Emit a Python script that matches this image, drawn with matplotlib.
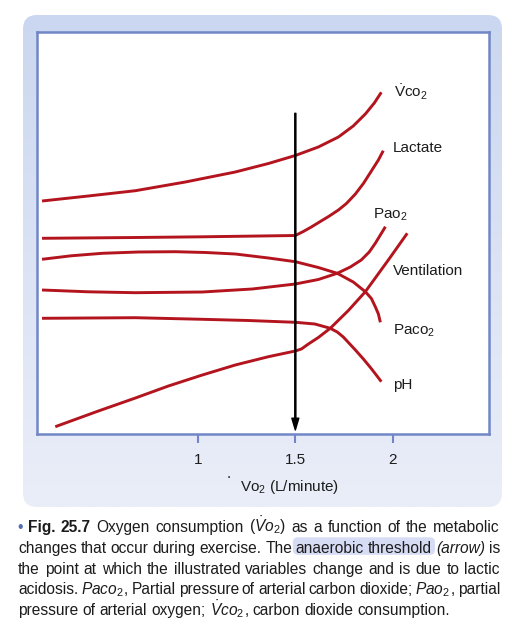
import numpy as np
import matplotlib
matplotlib.use("Agg")
import matplotlib.pyplot as plt
from matplotlib.patches import FancyBboxPatch

plt.rcParams["font.family"] = ["Liberation Sans", "DejaVu Sans"]
plt.rcParams["mathtext.fontset"] = "custom"
plt.rcParams["mathtext.rm"] = "Liberation Sans"
plt.rcParams["mathtext.it"] = "Liberation Sans:italic"
plt.rcParams["mathtext.bf"] = "Liberation Sans:bold"

# --------------------------------------------------------------
# Data (arbitrary y units 0-402)
# --------------------------------------------------------------
x_ticks = [1, 1.5, 2]
threshold_x = 1.5
arrow_top = 320.7
arrow_tip = 4

vco2_x = [0.201, 0.438, 0.680, 0.936, 1.192, 1.362, 1.5, 1.618, 1.721, 1.797, 1.859, 1.905, 1.941]
vco2_y = [233, 238, 243.3, 252, 262, 270.5, 278.5, 287, 297, 308, 320, 331, 341.7]

lactate_x = [0.201, 0.680, 1.023, 1.5, 1.541, 1.582, 1.628, 1.669, 1.721, 1.762, 1.808,
             1.849, 1.890, 1.926, 1.951]
lactate_y = [195.7, 196.5, 197.2, 198.5, 202.5, 207, 212.5, 217.3, 224, 230.5, 240,
             250.5, 263, 274, 283.3]

pao2_x = [0.201, 0.438, 0.680, 1.023, 1.279, 1.5, 1.618, 1.715, 1.782, 1.838, 1.879,
          1.910, 1.936, 1.962]
pao2_y = [144, 142.2, 141.3, 142, 145, 150, 154.5, 160.7, 167, 174, 182, 190.7, 199, 207.3]

paco2_x = [0.201, 0.350, 0.510, 0.695, 0.885, 1.040, 1.192, 1.362, 1.5, 1.618, 1.715,
           1.797, 1.859, 1.890, 1.910, 1.926, 1.936]
paco2_y = [174.7, 178.2, 180.7, 182, 182.3, 181.5, 180, 176, 172.3, 166.5, 160.7,
           152, 142.3, 135.5, 127.3, 120, 111.7]

vent_x = [0.269, 0.490, 0.680, 0.849, 1.023, 1.192, 1.362, 1.5, 1.531, 1.567, 1.618,
          1.679, 1.772, 1.859, 1.977, 2.074]
vent_y = [7.3, 23, 36, 48, 59, 69, 77.3, 83, 85, 90, 96.5, 105.7, 123.5, 142.3, 174, 200.7]

ph_x = [0.201, 0.680, 1.023, 1.259, 1.5, 1.600, 1.679, 1.715, 1.746, 1.808, 1.849,
        1.885, 1.915, 1.941]
ph_y = [115.7, 116.3, 114.7, 113.5, 111.7, 110, 105.7, 102, 97, 84, 75, 66.5, 59, 52.3]

labels = [r"$\dot{\mathrm{V}}\mathrm{co_2}$", "Lactate", r"$\mathrm{Pao_2}$",
          "Ventilation", r"$\mathrm{Paco_2}$", "pH"]
series = [(vco2_x, vco2_y), (lactate_x, lactate_y), (pao2_x, pao2_y),
          (vent_x, vent_y), (paco2_x, paco2_y), (ph_x, ph_y)]
# label offsets from curve end, in points
label_offsets = [(9.1, -3.6), (6.7, -1.2), (-8.6, 6.0), (-10.1, -30.0), (8.9, -8.6), (8.1, -5.5)]

caption = [
    [("•", "bullet"), (" Fig. 25.7", "bold"), (" Oxygen consumption ", "normal"),
     (r"$(\dot{V}o_2)$", "italic"), (" as a function of the metabolic", "normal")],
    [("changes that occur during exercise. The ", "normal"), ("anaerobic threshold", "mark"),
     (" ", "normal"), ("(arrow)", "italic"), (" is", "normal")],
    [("the point at which the illustrated variables change and is due to lactic", "normal")],
    [("acidosis. ", "normal"), (r"$Paco_2$", "italic"),
     (", Partial pressure of arterial carbon dioxide; ", "normal"), (r"$Pao_2$", "italic"),
     (", partial", "normal")],
    [("pressure of arterial oxygen; ", "normal"), (r"$\dot{V}co_2$", "italic"),
     (", carbon dioxide consumption.", "normal")],
]

RED = "#b3141e"
BORDER = "#7186c6"
TEXT = "#1c1c1c"

# --------------------------------------------------------------
# Figure + background panel (pixel coordinates)
# --------------------------------------------------------------
W, H = 514, 634
fig = plt.figure(figsize=(W / 100, H / 100), dpi=100)
fig.patch.set_facecolor("white")

bg = fig.add_axes([0, 0, 1, 1])
bg.set_axis_off()

panel = FancyBboxPatch((23, 15), 479, 492, boxstyle="round,pad=0,rounding_size=14",
                       facecolor="none", edgecolor="none")
bg.add_patch(panel)
top_c = np.array([203, 215, 240]) / 255
bot_c = np.array([234, 238, 248]) / 255
t = np.linspace(0, 1, 256)[:, None, None]
grad = top_c * (1 - t) + bot_c * t
im = bg.imshow(grad, extent=(23, 502, 507, 15), aspect="auto", origin="upper", zorder=0)
im.set_clip_path(panel)
bg.set_xlim(0, W)
bg.set_ylim(H, 0)

# --------------------------------------------------------------
# Main plot
# --------------------------------------------------------------
ax = fig.add_axes([37 / W, 1 - 434 / H, (489 - 37) / W, (434 - 32) / H])
ax.set_facecolor("white")
ax.set_xlim(0.1752, 2.4932)
ax.set_ylim(0, 402)

for (xs, ys), lab, off in zip(series, labels, label_offsets):
    ax.plot(xs, ys, color=RED, lw=2.1, solid_capstyle="butt", solid_joinstyle="round")
    ax.annotate(lab, xy=(xs[-1], ys[-1]), xytext=off, textcoords="offset points",
                ha="left", va="baseline", fontsize=11, color=TEXT)

ax.annotate("", xy=(threshold_x, arrow_tip), xytext=(threshold_x, arrow_top),
            arrowprops=dict(facecolor="black", edgecolor="black", width=0.8,
                            headwidth=5, headlength=8.5, shrink=0))

for s in ax.spines.values():
    s.set_color(BORDER)
    s.set_linewidth(1.8)
ax.set_yticks([])
ax.set_xticks(x_ticks)
ax.set_xticklabels(["1", "1.5", "2"])
ax.tick_params(axis="x", direction="out", length=6.5, width=1.5, color=BORDER,
               pad=7, labelsize=11, labelcolor=TEXT)

# x label with the displaced dot
bg.text(229, 477.5, ".", fontsize=11, ha="center", va="baseline", color=TEXT)
bg.text(240, 490.7, r"$\mathrm{Vo_2}$ (L/minute)", fontsize=11, ha="left",
        va="baseline", color=TEXT)

# --------------------------------------------------------------
# Justified caption
# --------------------------------------------------------------
styles = {
    "normal": dict(color=TEXT),
    "mark": dict(color=TEXT),
    "bold": dict(color=TEXT, weight="bold"),
    "italic": dict(color=TEXT, style="italic"),
    "bullet": dict(color="#4f6db3"),
}
cap_size = 11.2
renderer = fig.canvas.get_renderer()


def tokens_of(runs):
    toks = []
    space = False
    for text, style in runs:
        parts = text.split(" ")
        for k, p in enumerate(parts):
            if k > 0:
                space = True
            if p:
                toks.append([p, style, space and bool(toks)])
                space = False
    return toks


probe_a = bg.text(0, 0, "x x", fontsize=cap_size)
probe_b = bg.text(0, 0, "xx", fontsize=cap_size)
space_w = (probe_a.get_window_extent(renderer).width
           - probe_b.get_window_extent(renderer).width)
probe_a.remove()
probe_b.remove()

left_x = [17, 18, 18, 18, 18]
right_x = 500
for i, runs in enumerate(caption):
    base = 532 + 20.8 * i
    toks = tokens_of(runs)
    objs, widths = [], []
    for txt, style, _ in toks:
        o = bg.text(0, base, txt, fontsize=cap_size, ha="left", va="baseline",
                    zorder=3, **styles[style])
        objs.append(o)
        widths.append(o.get_window_extent(renderer).width)
    n_gaps = sum(1 for tk in toks if tk[2])
    if i < len(caption) - 1 and n_gaps:
        gap = (right_x - left_x[i] - sum(widths)) / n_gaps
    else:
        gap = space_w
    x = left_x[i]
    mark_span = []
    for o, w, tk in zip(objs, widths, toks):
        if tk[2]:
            x += gap
        o.set_x(x)
        if tk[1] == "mark":
            mark_span.append((x, x + w))
        x += w
    if mark_span:
        x0, x1 = mark_span[0][0], mark_span[-1][1]
        bg.add_patch(FancyBboxPatch((x0 - 3, base - 15.5), x1 - x0 + 6, 17.5,
                                    boxstyle="round,pad=0,rounding_size=5",
                                    facecolor="#d7dcf5", edgecolor="none", zorder=2))

fig.savefig("out.png", dpi=100, facecolor="white")
